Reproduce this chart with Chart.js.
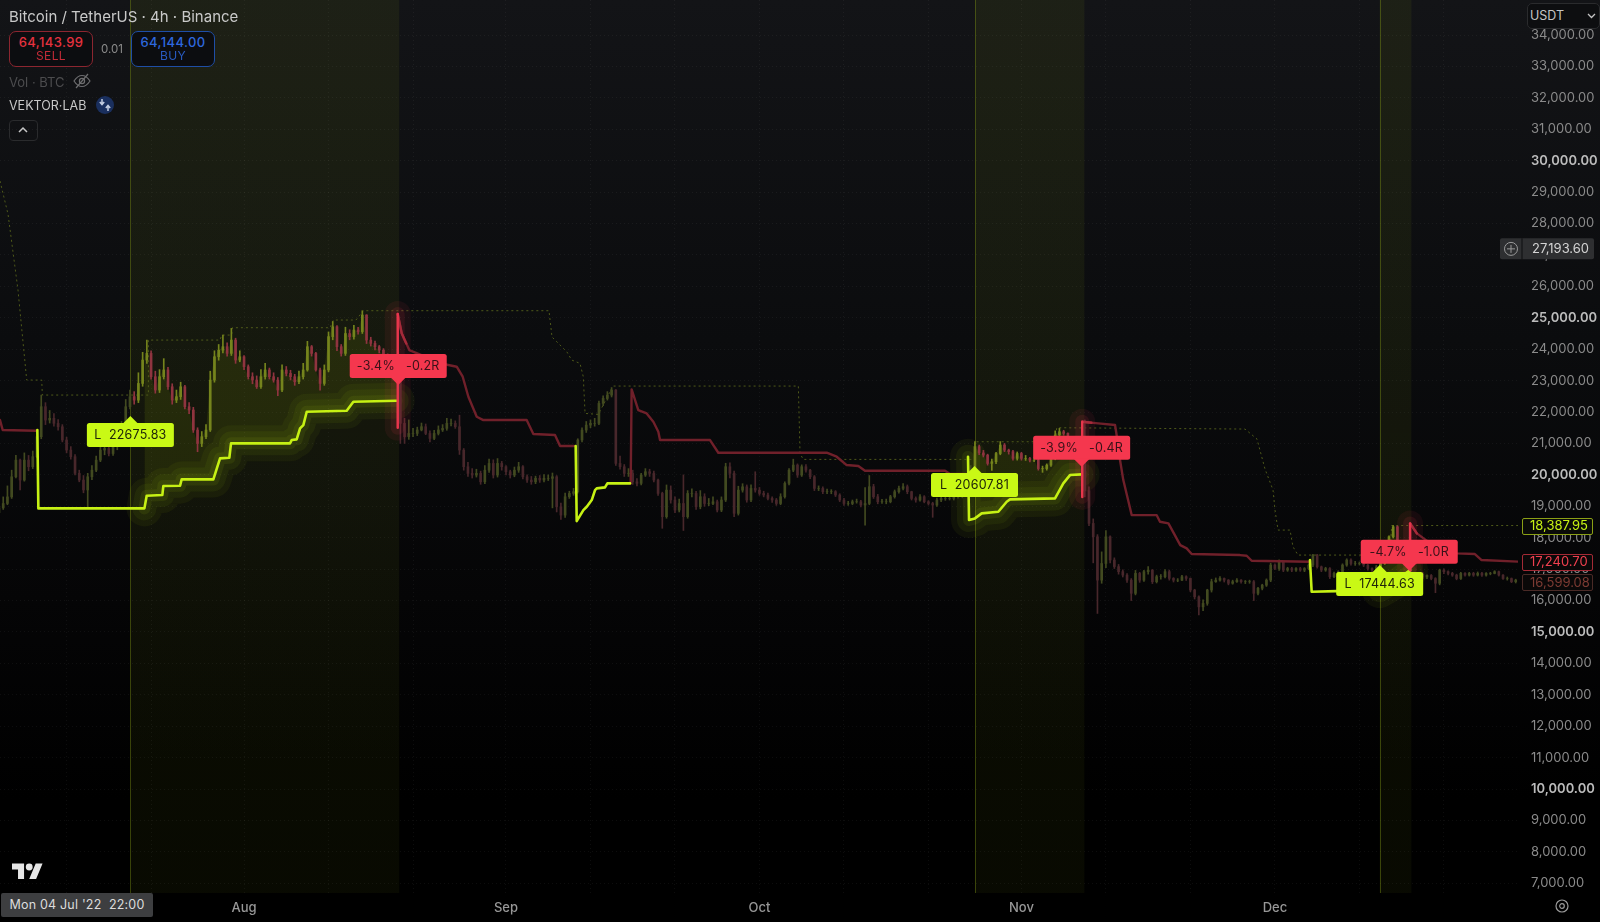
<!DOCTYPE html>
<html>
<head>
<meta charset="utf-8">
<title>Bitcoin / TetherUS</title>
<script src="https://cdn.jsdelivr.net/npm/chart.js@4/dist/chart.umd.min.js"></script>
<style>
html,body{margin:0;padding:0;width:1600px;height:922px;overflow:hidden;background:#000;font-family:Inter,"Noto Sans",sans-serif}
#wrap{position:relative;width:1600px;height:922px;background:linear-gradient(#131417 0,#0b0c0e 340px,#050506 600px,#000 800px)}
#chart{position:absolute;left:0;top:0}
.abs{position:absolute;white-space:nowrap}
.trade{position:absolute;top:31px;width:82px;height:32px;border:1px solid;border-radius:7px;background:#0c0d10;text-align:center;line-height:13px;padding-top:2px;box-sizing:content-box}
.trade b{display:block;font-weight:500;font-size:13px;letter-spacing:.4px;margin-top:2px}
.trade span{display:block;font-size:12px;letter-spacing:.4px;opacity:.85}
</style>
</head>
<body>
<div id="wrap">
<canvas id="chart" width="1600" height="922"></canvas>

<div class="abs" style="left:9px;top:7px;font-size:15px;color:#c9c9c9">Bitcoin / TetherUS · 4h · Binance</div>
<div class="trade" style="left:9px;border-color:#8c2630;color:#e5323f"><b>64,143.99</b><span>SELL</span></div>
<div class="abs" style="left:101px;top:42px;font-size:11.5px;color:#8c8c8c">0.01</div>
<div class="trade" style="left:131px;border-color:#1f4ea6;color:#2e68de"><b>64,144.00</b><span>BUY</span></div>
<div class="abs" style="left:9px;top:74px;font-size:13px;color:#4c4c4e">Vol · BTC</div>
<svg class="abs" style="left:73px;top:73px" width="18" height="16" viewBox="0 0 18 16" fill="none" stroke="#6e6e70" stroke-width="1.2"><path d="M1 8c3-4.5 5-5.5 8-5.5s5 1 8 5.5c-3 4.5-5 5.5-8 5.5S4 12.500 1 8z"/><circle cx="9" cy="8" r="2.6"/><path d="M3 15L15 1"/></svg>
<div class="abs" style="left:9px;top:98px;font-size:12.5px;color:#c8c8c8">VEKTOR·LAB</div>
<svg class="abs" style="left:96px;top:96px" width="18" height="18" viewBox="0 0 18 18"><circle cx="9" cy="9" r="9" fill="#1a2f5e"/><path d="M6 3v5M3.800 6l2.200 2.500L8.200 6M12 15v-5M9.800 12l2.200-2.500 2.200 2.500" stroke="#c4cde0" stroke-width="1.500" fill="none"/></svg>
<div class="abs" style="left:9px;top:120px;width:27px;height:19px;border:1px solid #2a2b2d;border-radius:4px"></div>
<svg class="abs" style="left:17px;top:126px" width="12" height="8" viewBox="0 0 12 8" fill="none" stroke="#c8c8c8" stroke-width="1.500"><path d="M2 6l4-4 4 4"/></svg>

<div class="abs" style="left:1527px;top:3px;width:71px;height:24px;border:1px solid #2a2b2d;border-radius:5px;background:#0d0e10;color:#c4c4c4;font-size:12.5px;line-height:24px;text-indent:2px">USDT</div>
<svg class="abs" style="left:1587px;top:13px" width="9" height="6" viewBox="0 0 9 6" fill="none" stroke="#c4c4c4" stroke-width="1.300"><path d="M1 1l3.500 3.500L8 1"/></svg>

<svg class="abs" style="left:12px;top:863px" width="31" height="17" viewBox="0 4 36 18.500" fill="#e6e6e6"><path d="M14 22H7V11H0V4h14v18zM28 22h-8l7.500-18h8L28 22z"/><circle cx="20" cy="8" r="4"/></svg>
<div class="abs" style="left:1px;top:893px;width:152px;height:24px;border-radius:2px;background:#3d3e40;color:#dcdcdc;font-size:12.5px;line-height:24px;text-align:center;letter-spacing:.2px">Mon 04 Jul '22&nbsp;&nbsp;22:00</div>
<svg class="abs" style="left:1554px;top:898px" width="16" height="16" viewBox="0 0 16 16" fill="none" stroke="#9a9a9a" stroke-width="1.200"><circle cx="8" cy="8" r="6"/><circle cx="8" cy="8" r="2.300"/></svg>
</div>

<script>
// x positions are days counted from 1 Aug 2022
const axisStart = -28.88;
const axisEnd = 150.77;
const monthDays = [0, 31, 61, 92, 122];
const monthNames = ['Aug', 'Sep', 'Oct', 'Nov', 'Dec'];
const gridDays = [-21, -11, 0, 10, 20, 31, 41, 51, 61, 71, 81, 92, 102, 112, 122, 132, 142];
const priceTicks = [7000,8000,9000,10000,11000,12000,13000,14000,15000,16000,17000,18000,19000,20000,21000,22000,23000,24000,25000,26000,27000,28000,29000,30000,31000,32000,33000,34000];
const boldTicks = [10000, 15000, 20000, 25000, 30000];

// one candle every 12h
const opens = [
18800,18950,19090,19300,19940,20470,19835,20470,20260,20580,
21215,22170,21745,21800,21640,21530,21110,20790,20580,20050,
19835,19520,19940,20150,20470,20790,20840,20680,20900,20950,
21427,22170,22490,22380,22910,23655,23867,23125,22700,23125,
23340,22805,22380,22490,22805,22170,22065,21427,21000,21215,
21427,23018,23760,23970,24080,23867,24290,23655,23760,23443,
23125,23018,22805,23125,23340,23125,23018,22700,23340,23230,
23125,22965,23125,23340,24080,23867,23340,22910,23340,24400,
24716,24080,23867,24500,24400,24610,24560,25087,24290,24185,
24080,23970,23800,23500,23400,23300,21640,21215,21320,21320,
21430,21533,21320,21160,21320,21430,21480,21640,21640,21533,
20790,20260,20047,19995,20047,19780,20150,20365,19995,20365,
20260,20100,19995,20150,20260,19940,19835,19780,19890,19835,
19890,19890,19940,18985,18720,19305,19410,19465,21110,21425,
21585,21640,21640,22275,22435,22540,22700,20365,20260,20047,
20047,19780,19730,19995,20100,20047,19835,19410,18670,19515,
19200,18880,19090,18670,19410,19410,18985,19305,19090,19090,
19145,18880,19200,20260,20047,18775,19515,19620,19200,19570,
19515,19410,19360,19250,19200,19090,19305,19730,20150,20312,
19995,20260,20150,19940,19570,19570,19465,19465,19465,19360,
19200,19090,19090,19145,19145,19040,19090,19625,19305,19145,
19145,19145,19305,19465,19570,19625,19465,19250,19200,19305,
19145,19090,19040,19200,19250,19250,19250,19305,19305,19410,
19900,20150,20900,20700,20630,20365,20420,20680,20950,20790,
20740,20525,20680,20525,20525,20470,20470,20200,20200,20310,
20525,21270,21375,21320,21200,21000,20900,20700,19500,18456,
18030,16650,17180,18030,17290,17080,16920,16810,16650,16230,
16865,16650,16920,16970,16600,16760,16760,16920,16705,16650,
16650,16760,16705,16335,16120,15800,15910,16335,16600,16650,
16705,16650,16550,16600,16650,16600,16600,16600,16230,16390,
16490,16650,17130,17020,17235,16970,17020,16970,17020,16970,
17020,17130,17450,17075,16970,17020,16760,16865,16920,17130,
17290,17180,17180,17180,17130,17020,16970,17070,17180,17290,
18030,18350,17800,17700,17500,16800,16800,16850,16750,16800,
16700,16550,16970,16920,16865,16810,16700,16865,16810,16865,
16810,16865,16810,16865,16865,16920,16810,16700,16700,16600];
const highs = [
19150,19300,19650,20150,20620,20500,20700,20620,20760,21400,
22540,22300,22050,21950,21760,21600,21200,20900,20650,20150,
19980,20050,20300,20600,20950,21050,20950,21080,21200,21700,
22400,22700,22650,23250,23900,24290,23950,23300,23350,23700,
23420,22900,22700,22950,22850,22300,22150,21500,21380,21600,
23300,23950,24150,24450,24200,24663,24350,23950,23800,23500,
23250,23150,23350,23550,23400,23250,23100,23500,23450,23330,
23200,23300,23550,24250,24120,23900,23400,23500,24550,24880,
24750,24150,24700,24620,24760,24700,25225,25100,24380,24260,
24120,24020,23850,23600,23500,23400,21800,21750,21480,21520,
21650,21620,21400,21420,21560,21600,21800,21780,21720,21900,
20840,20400,20200,20180,20120,20300,20500,20480,20520,20430,
20300,20150,20250,20400,20300,20000,19950,19960,19980,20010,
20000,20060,19980,19100,19420,19480,19570,21150,21500,21700,
21750,21800,22350,22520,22650,22780,22720,20600,20330,20200,
20150,19880,20050,20200,20180,20120,19870,19450,19680,19650,
19300,19230,20000,19500,19560,19480,19500,19400,19250,19300,
19200,19300,20370,20380,20120,19640,19720,19680,19680,20100,
19600,19480,19420,19300,19250,19400,19780,20200,20500,20350,
20320,20330,20180,19980,19650,19620,19550,19530,19500,19400,
19250,19160,19200,19230,19190,19600,19980,19700,19380,19220,
19230,19350,19520,19640,19720,19680,19480,19300,19370,19340,
19180,19130,19260,19330,19300,19300,19370,19380,19480,19950,
20300,21060,20950,20780,20660,20500,20720,21060,21000,20820,
20780,20730,20720,20620,20560,20540,20510,20280,20350,20560,
21400,21480,21420,21340,21220,21030,20950,21750,19620,18600,
18100,17550,18230,18060,17360,17150,16980,16860,16700,16960,
16900,16960,17080,16990,16810,16830,16990,16970,16730,16700,
16800,16790,16720,16360,16150,16020,16360,16680,16720,16760,
16720,16670,16650,16700,16670,16640,16650,16640,16420,16520,
16690,17190,17170,17300,17260,17060,17060,17050,17060,17050,
17170,17470,17470,17100,17060,17050,16910,16950,17170,17330,
17330,17250,17230,17220,17150,17040,17120,17210,17330,18060,
18390,18370,17850,17750,17520,16880,16900,16900,16820,16830,
16730,17000,17010,16950,16900,16840,16900,16890,16900,16900,
16910,16900,16890,16900,16950,16940,16830,16750,16720,16680];
const lows = [
18700,18900,19050,19250,19900,19520,19800,20130,20200,20550,
21150,21600,21650,21550,21420,21050,20700,20500,20000,19780,
19430,18930,19850,20100,20420,20640,20600,20620,20800,20900,
21380,22100,22250,22300,22820,23550,23050,22600,22620,23050,
22720,22250,22300,22400,22100,21950,21350,20737,20900,21150,
21380,22950,23650,23880,23780,23800,23550,23600,23350,23050,
22900,22750,22750,23050,23050,22950,22520,22650,23150,23020,
22850,22900,23050,23300,23780,23300,22700,22850,23280,24300,
23950,23780,23800,24300,24320,24480,24500,24180,24100,23980,
23880,23700,23400,23300,23150,21000,21000,21130,21220,21250,
21400,21280,21050,21120,21270,21380,21420,21560,21480,20650,
20150,19950,19900,19930,19700,19720,20080,19900,19930,20150,
20000,19900,19940,20080,19870,19760,19700,19720,19760,19780,
19820,18950,18820,18580,18650,19250,19350,19420,21050,21350,
21500,21550,21600,22200,22380,22480,20300,20180,19950,19950,
19700,19650,19680,19950,19950,19780,19350,18300,18620,19100,
18800,18820,18230,18620,19300,18900,18920,19000,19020,19050,
18820,18830,19150,19900,18670,18720,19450,19130,19150,19450,
19350,19300,19200,19120,19030,19050,19260,19680,20100,19920,
19950,20090,19880,19500,19500,19400,19400,19400,19310,19150,
19030,19030,19050,19100,18980,18400,19050,19250,19080,19090,
19080,19110,19260,19420,19520,19400,19200,19130,19160,19110,
19040,18650,19000,19150,19190,19200,19200,19260,19270,19370,
19850,20080,20640,20570,20310,20140,20360,20640,20740,20660,
20470,20470,20470,20460,20410,20420,20150,20080,20150,20270,
20480,21200,21260,21120,20950,20850,20600,19300,18380,17200,
15590,16550,17050,17200,17020,16840,16750,16580,16000,16180,
16580,16610,16840,16540,16560,16680,16720,16650,16590,16600,
16630,16640,16280,16050,15540,15680,15850,16270,16580,16620,
16590,16500,16520,16580,16550,16540,16550,16000,16180,16340,
16450,16600,16980,16960,16920,16930,16920,16930,16930,16920,
16980,17080,17030,16920,16930,16700,16730,16840,16880,17090,
17130,17120,17130,17080,16970,16920,16930,17030,17150,17250,
17990,17760,17650,17450,16650,16750,16760,16700,16700,16660,
16250,16500,16860,16820,16770,16660,16670,16780,16780,16770,
16780,16770,16780,16820,16850,16780,16670,16650,16570,16560];
const closes = [
18950,19090,19300,19940,20470,19835,20470,20260,20580,21215,
22170,21745,21800,21640,21530,21110,20790,20580,20050,19835,
19520,19940,20150,20470,20790,20840,20680,20900,20950,21427,
22170,22490,22380,22910,23655,23867,23125,22700,23125,23340,
22805,22380,22490,22805,22170,22065,21427,21000,21215,21427,
23018,23760,23970,24080,23867,24290,23655,23760,23443,23125,
23018,22805,23125,23340,23125,23018,22700,23340,23230,23125,
22965,23125,23340,24080,23867,23340,22910,23340,24400,24716,
24080,23867,24500,24400,24610,24560,25087,24290,24185,24080,
23970,23800,23500,23400,23300,21640,21215,21320,21320,21430,
21533,21320,21160,21320,21430,21480,21640,21640,21533,20790,
20260,20047,19995,20047,19780,20150,20365,19995,20365,20260,
20100,19995,20150,20260,19940,19835,19780,19890,19835,19890,
19890,19940,18985,18720,19305,19410,19465,21110,21425,21585,
21640,21640,22275,22435,22540,22700,20365,20260,20047,20047,
19780,19730,19995,20100,20047,19835,19410,18670,19515,19200,
18880,19090,18670,19410,19410,18985,19305,19090,19090,19145,
18880,19200,20260,20047,18775,19515,19620,19200,19570,19515,
19410,19360,19250,19200,19090,19305,19730,20150,20312,19995,
20260,20150,19940,19570,19570,19465,19465,19465,19360,19200,
19090,19090,19145,19145,19040,19090,19625,19305,19145,19145,
19145,19305,19465,19570,19625,19465,19250,19200,19305,19145,
19090,19040,19200,19250,19250,19250,19305,19305,19410,19900,
20150,20900,20700,20630,20365,20420,20680,20950,20790,20740,
20525,20680,20525,20525,20470,20470,20200,20200,20310,20525,
21270,21375,21320,21200,21000,20900,20700,19500,18456,18030,
16650,17180,18030,17290,17080,16920,16810,16650,16230,16865,
16650,16920,16970,16600,16760,16760,16920,16705,16650,16650,
16760,16705,16335,16120,15800,15910,16335,16600,16650,16705,
16650,16550,16600,16650,16600,16600,16600,16230,16390,16490,
16650,17130,17020,17235,16970,17020,16970,17020,16970,17020,
17130,17450,17075,16970,17020,16760,16865,16920,17130,17290,
17180,17180,17180,17130,17020,16970,17070,17180,17290,18030,
18350,17800,17700,17500,16800,16800,16850,16750,16800,16700,
16550,16970,16920,16865,16810,16700,16865,16810,16865,16810,
16865,16810,16865,16865,16920,16810,16700,16700,16600,16650];

// long trades: start and end of the shaded windows
const zoneStarts = [-13.45, 86.5, 134.4];
const zoneEnds = [18.36, 99.45, 138.15];

// lime stop line per trade
const limeDays1 = [-24.46,-24.34,-11.79,-11.52,-9.67,-9.55,-7.57,-7.38,-3.63,-2.84,-1.74,-1.54,5.44,5.64,6.23,6.63,7.02,7.42,12.15,12.94,18.07];
const limePrices1 = [21427,18934,18934,19337,19358,19644,19655,19857,19857,20525,20546,21003,21003,21108,21130,21480,21586,22010,22042,22329,22360];
const limeDays2 = [39.25,39.37,40.16,40.56,41.15,41.54,41.74,42.72,43.0,45.68];
const limePrices2 = [20918,18530,18880,18985,19199,19517,19570,19602,19729,19729];
const limeDays3 = [85.68,85.8,86.5,87.3,89.27,90.26,90.65,95.98,96.96,97.75,99.13];
const limePrices3 = [20578,18562,18615,18774,18827,19146,19220,19252,19729,19994,20016];
const limeDays4 = [126.15,126.35,129.3,132.5,134.4,136.4,138];
const limePrices4 = [17289,16281,16302,16334,16334,16652,16970];

// dark red stop line while flat
const redDays1 = [-28.88,-28.56,-24.6];
const redPrices1 = [21745,21427,21405];
const redDays2 = [18.19,18.66,19.56,22,24.18,25.17,25.88,26.55,27.54,28.32,33.45,34.24,36.8,37.4,39.05];
const redPrices2 = [25119,24504,23973,23700,23496,23443,23124,22488,21851,21745,21745,21300,21268,20918,20918];
const redDays3 = [45.76,45.87,46.66,47.65,48.44,49.03,49.23,55.15,56.13,68.96,70.14,71.32,72.7,73.49,79.99,82.96,83.55,85.68];
const redPrices3 = [19729,22721,22063,21957,21692,21374,21109,21109,20705,20705,20578,20313,20281,20132,20132,20132,20026,20026];
const redDays4 = [99.2,101.1,103.08,103.3,103.67,104.06,105.05,108,108.4,109.4,110.8,111.56,112.15,117.87,118.66,119.25,126.15];
const redPrices4 = [21692,21639,21586,21215,20472,19835,18721,18721,18509,18456,17766,17660,17480,17448,17427,17268,17236];
const redDays5 = [138,138.8,140,143.5,145.67,146.46,150.77];
const redPrices5 = [18456,18138,17900,17501,17480,17289,17240.7];

// bright exit spikes, and the tail just after them
const spikeDays1 = [18.19,18.19,18.19];
const spikePrices1 = [21500,22360,25119];
const tailDays1 = [18.19,18.66,19.2];
const tailPrices1 = [25119,24504,24180];
const spikeDays2 = [99.2,99.2,99.2];
const spikePrices2 = [19300,20016,21692];
const tailDays2 = [99.2,100.3];
const tailPrices2 = [21692,21660];
const spikeDays3 = [138,138,138];
const spikePrices3 = [16970,17600,18456];
const tailDays3 = [138,138.8];
const tailPrices3 = [18456,18138];

// upper dotted line
const dotDays = [-28.88,-27.93,-26.75,-25.72,-23.94,-23.87,-11.32,-11.32,-2.84,-2.64,-1.46,-1.38,10.18,10.57,13.25,14.12,36.09,36.45,38.22,38.78,39.76,40.15,40.36,41.93,43.51,43.63,65.6,65.8,66.18,79.99,86.5,86.5,95.98,96.18,118.46,119.88,120.83,121.78,122.01,122.37,123.79,124.14,124.73,126.15,130.1,135.62,135.82,150.77];
const dotPrices = [29353,28300,25883,23018,23018,22541,22541,24291,24291,24450,24450,24684,24684,24929,24929,25225,25225,24387,23910,23655,23549,23124,21957,21925,22753,22827,22827,20684,20493,20493,20493,21055,21055,21501,21459,21141,20186,19517,18880,18244,18244,17713,17448,17448,17448,17448,18387.95,18387.95];

// entry and exit flags
const entryDays = [-13.45, 86.45, 134.4];
const entryPrices = [21873, 20282, 17130];
const entryTexts = ['L  22675.83', 'L  20607.81', 'L  17444.63'];
const exitDays = [18.25, 99.13, 137.9];
const exitPrices = [22860, 20259, 16949];
const exitTexts = ['-3.4%   -0.2R', '-3.9%   -0.4R', '-4.7%   -1.0R'];

// price tags on the right axis
const tagValues = [18387.95, 17240.70, 16599.08];
const tagTexts = ['18,387.95', '17,240.70', '16,599.08'];
const crossValue = 27193.60;
const crossText = '27,193.60';

const money = (n) => Number(n).toLocaleString('en-US', {minimumFractionDigits: 2, maximumFractionDigits: 2});
const candleDays = closes.map((c, i) => -29 + i * 0.5);
const pairs = (xs, ys) => xs.map((x, i) => ({x, y: ys[i]}));
const inZone = (day) => zoneStarts.some((s, i) => day >= s && day <= zoneEnds[i]);

function candleColor(ctx) {
    const i = ctx.dataIndex;
    const up = closes[i] >= opens[i];
    if (inZone(candleDays[i])) return up ? '#75841d' : '#8f343f';
    return up ? '#424a20' : '#48272b';
}

function line(xs, ys, color, width, order, extra) {
    return Object.assign({
        type: 'line',
        data: pairs(xs, ys),
        borderColor: color,
        borderWidth: width,
        pointRadius: 0,
        tension: 0,
        fill: false,
        order,
        borderJoinStyle: 'round',
        borderCapStyle: 'round'
    }, extra || {});
}

const datasets = [];

// glow round the lime line inside a trade, and the fill up to the price
const glowSets = [[limeDays1, limePrices1, 0], [limeDays3, limePrices3, 1], [limeDays4, limePrices4, 2]];
glowSets.forEach(([xs, ys, z]) => {
    const keep = xs.map((x, i) => i).filter(i => xs[i] >= zoneStarts[z] - 1.5);
    const gx = keep.map(i => xs[i]);
    const gy = keep.map(i => ys[i]);
    const target = datasets.length;
    datasets.push(line(gx, gy, 'rgba(190,230,20,0.05)', 36, 60));
    datasets.push(line(gx, gy, 'rgba(190,230,20,0.06)', 24, 59));
    datasets.push(line(gx, gy, 'rgba(190,230,20,0.08)', 12, 58));
    const fillKeep = candleDays.map((d, i) => i).filter(i => candleDays[i] >= zoneStarts[z] && candleDays[i] <= zoneEnds[z]);
    datasets.push(line(fillKeep.map(i => candleDays[i]), fillKeep.map(i => closes[i]), 'rgba(0,0,0,0)', 0, 61, {
        fill: {target, above: 'rgba(170,200,10,0.11)', below: 'rgba(0,0,0,0)'}
    }));
});

datasets.push(line(dotDays, dotPrices, '#4f5a1a', 1, 40, {borderDash: [2, 3], borderCapStyle: 'butt'}));

// candles: wick and body as floating bars
datasets.push({
    type: 'bar', order: 30, grouped: false, barThickness: 1,
    data: candleDays.map((x, i) => ({x, y: [lows[i], highs[i]]})),
    backgroundColor: candleColor
});
datasets.push({
    type: 'bar', order: 29, grouped: false, barThickness: 2,
    data: candleDays.map((x, i) => ({x, y: [opens[i], closes[i]]})),
    backgroundColor: candleColor
});

[[redDays1, redPrices1], [redDays2, redPrices2], [redDays3, redPrices3], [redDays4, redPrices4], [redDays5, redPrices5]].forEach(([xs, ys]) => {
    datasets.push(line(xs, ys, '#70202a', 2.4, 20));
});

[[spikeDays1, spikePrices1, tailDays1, tailPrices1], [spikeDays2, spikePrices2, tailDays2, tailPrices2], [spikeDays3, spikePrices3, tailDays3, tailPrices3]].forEach(([xs, ys, tx, ty]) => {
    datasets.push(line(xs, ys, 'rgba(245,55,80,0.07)', 26, 15));
    datasets.push(line(xs, ys, 'rgba(245,55,80,0.10)', 14, 14));
    datasets.push(line(xs, ys, '#e8364c', 2.5, 5));
    datasets.push(line(tx, ty, '#a52a3a', 2.4, 6));
});

[[limeDays1, limePrices1], [limeDays2, limePrices2], [limeDays3, limePrices3], [limeDays4, limePrices4]].forEach(([xs, ys]) => {
    datasets.push(line(xs, ys, '#c6f114', 2.6, 10));
});

function roundBox(ctx, x, y, w, h, r) {
    ctx.beginPath();
    ctx.roundRect(x, y, w, h, r);
}

function flag(ctx, px, py, w, up, fillColor, inkColor, text) {
    // up: box hangs below the tip, otherwise above it
    const h = 24, tip = 7;
    const top = up ? py + tip : py - tip - h;
    ctx.fillStyle = fillColor;
    roundBox(ctx, px - w / 2, top, w, h, 2.5);
    ctx.fill();
    ctx.beginPath();
    if (up) { ctx.moveTo(px - 8, top + 1); ctx.lineTo(px, py); ctx.lineTo(px + 8, top + 1); }
    else { ctx.moveTo(px - 8, top + h - 1); ctx.lineTo(px, py); ctx.lineTo(px + 8, top + h - 1); }
    ctx.fill();
    ctx.fillStyle = inkColor;
    ctx.font = '12.5px Inter';
    ctx.letterSpacing = '0.2px';
    ctx.textAlign = 'center';
    ctx.textBaseline = 'middle';
    ctx.fillText(text, px, top + h / 2 + 0.5);
    ctx.letterSpacing = '0px';
}

const zonePlugin = {
    id: 'zones',
    beforeDatasetsDraw(chart) {
        const {ctx, chartArea, scales} = chart;
        ctx.save();
        const grad = ctx.createLinearGradient(0, 0, 0, chartArea.bottom);
        grad.addColorStop(0, 'rgba(120,140,20,0.11)');
        grad.addColorStop(0.45, 'rgba(120,140,20,0.10)');
        grad.addColorStop(1, 'rgba(120,140,20,0.07)');
        zoneStarts.forEach((s, i) => {
            const a = scales.x.getPixelForValue(s);
            const b = scales.x.getPixelForValue(zoneEnds[i]);
            ctx.fillStyle = grad;
            ctx.fillRect(a, 0, b - a, chartArea.bottom);
            ctx.fillStyle = 'rgba(120,140,20,0.45)';
            ctx.fillRect(Math.round(a), 0, 1, chartArea.bottom);
        });
        ctx.restore();
    },
    afterDatasetsDraw(chart) {
        const {ctx, scales} = chart;
        ctx.save();
        exitDays.forEach((d, i) => {
            flag(ctx, scales.x.getPixelForValue(d), scales.y.getPixelForValue(exitPrices[i]), 97, false, '#f5374e', '#3a1219', exitTexts[i]);
        });
        entryDays.forEach((d, i) => {
            flag(ctx, scales.x.getPixelForValue(d), scales.y.getPixelForValue(entryPrices[i]), 87, true, '#c9f915', '#20260a', entryTexts[i]);
        });
        ctx.restore();
    },
    afterDraw(chart) {
        const {ctx, scales} = chart;
        ctx.save();
        ctx.textBaseline = 'middle';
        ctx.textAlign = 'left';
        ctx.font = '13px Inter';
        const styles = [['#0a0b08', '#8ba015', '#c6f114'], ['#0a0808', '#a32a35', '#f0404f'], ['#0a0808', '#4a2a26', '#7d3b33']];
        tagValues.forEach((v, i) => {
            const y = scales.y.getPixelForValue(v);
            ctx.fillStyle = styles[i][0];
            ctx.strokeStyle = styles[i][1];
            ctx.lineWidth = 1;
            roundBox(ctx, 1522.5, Math.round(y) - 7.5, 70, 16, 1.5);
            ctx.fill();
            ctx.stroke();
            ctx.fillStyle = styles[i][2];
            ctx.fillText(tagTexts[i], 1530, y + 1);
        });
        // crosshair price
        const cy = scales.y.getPixelForValue(crossValue);
        ctx.fillStyle = '#2e2f31';
        roundBox(ctx, 1500, cy - 10.5, 94, 21, 2);
        ctx.fill();
        ctx.fillStyle = '#0d0e10';
        ctx.fillRect(1521.5, cy - 10.5, 1, 21);
        ctx.fillStyle = '#d4d4d4';
        ctx.fillText(crossText, 1532, cy + 0.5);
        ctx.strokeStyle = '#9a9a9a';
        ctx.beginPath();
        ctx.arc(1511, cy, 6.5, 0, Math.PI * 2);
        ctx.moveTo(1507, cy); ctx.lineTo(1515, cy);
        ctx.moveTo(1511, cy - 4); ctx.lineTo(1511, cy + 4);
        ctx.stroke();
        ctx.restore();
    }
};

new Chart(document.getElementById('chart'), {
    type: 'line',
    data: {datasets},
    plugins: [zonePlugin],
    options: {
        responsive: false,
        animation: false,
        events: [],
        layout: {padding: 0, autoPadding: false},
        plugins: {legend: {display: false}, tooltip: {enabled: false}},
        scales: {
            x: {
                type: 'linear',
                min: axisStart,
                max: axisEnd,
                offset: false,
                afterBuildTicks: (s) => { s.ticks = gridDays.map(value => ({value})); },
                afterFit: (s) => { s.height = 29; },
                border: {display: false, dash: [1, 3]},
                grid: {color: 'rgba(255,255,255,0.05)', drawTicks: false, offset: false},
                ticks: {
                    autoSkip: false,
                    maxRotation: 0,
                    padding: 7,
                    color: '#979797',
                    font: {family: 'Inter', size: 13, weight: '500'},
                    callback: (v) => { const m = monthDays.indexOf(v); return m >= 0 ? monthNames[m] : ''; }
                }
            },
            y: {
                type: 'linear',
                position: 'right',
                min: 6693,
                max: 35114,
                afterBuildTicks: (s) => { s.ticks = priceTicks.map(value => ({value})); },
                afterFit: (s) => {
                    s.width = 82;
                    // keep the axis to the full plot height, no room for end labels
                    s.paddingTop = 0;
                    s.paddingBottom = 0;
                    s._margins.top = 0;
                    s._margins.bottom = 0;
                },
                border: {display: false, dash: [1, 3]},
                grid: {color: 'rgba(255,255,255,0.05)', drawTicks: false},
                ticks: {
                    autoSkip: false,
                    padding: 13,
                    color: (c) => boldTicks.includes(c.tick.value) ? '#bcbcbc' : '#8b8b8b',
                    font: (c) => ({family: 'Inter', size: 13, weight: c.tick && boldTicks.includes(c.tick.value) ? '600' : '400'}),
                    callback: (v) => money(v)
                }
            }
        }
    }
});
</script>
</body>
</html>
